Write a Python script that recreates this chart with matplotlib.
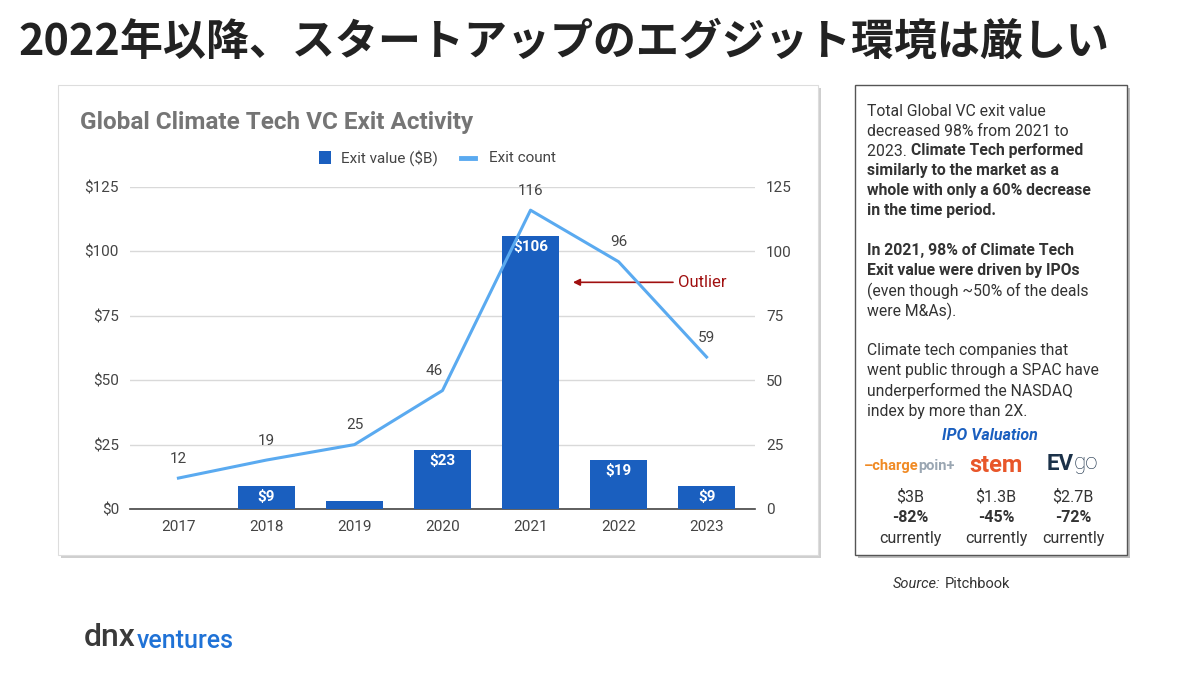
import matplotlib
matplotlib.use("Agg")
import matplotlib.pyplot as plt
from matplotlib.patches import Rectangle
from matplotlib.lines import Line2D

years = ["2017", "2018", "2019", "2020", "2021", "2022", "2023"]
exit_value = [0, 9, 3, 23, 106, 19, 9]
value_labels = ["", "$9", "", "$23", "$106", "$19", "$9"]
exit_count = [12, 19, 25, 46, 116, 96, 59]
left_ticks = [0, 25, 50, 75, 100, 125]

W, H = 1200, 673
fig = plt.figure(figsize=(12, 6.73), dpi=100)
fig.patch.set_facecolor("white")

def fx(x): return x / W
def fy(y): return 1 - y / H

# Title
fig.text(fx(18), fy(42), "2022年以降、スタートアップのエグジット環境は厳しい",
         family=["Noto Sans CJK JP", "DejaVu Sans"], weight="bold", fontsize=31,
         color="#222222", va="center", ha="left")

# Chart panel with shadow
fig.patches.append(Rectangle((fx(61), fy(558)), fx(760), (470) / H, transform=fig.transFigure,
                             facecolor="#cfcfcf", edgecolor="none", zorder=0))
fig.patches.append(Rectangle((fx(58), fy(555)), fx(760), (470) / H, transform=fig.transFigure,
                             facecolor="white", edgecolor="#dddddd", lw=0.8, zorder=0.5))
# Right box with shadow
fig.patches.append(Rectangle((fx(858), fy(558)), fx(272), 470 / H, transform=fig.transFigure,
                             facecolor="#bdbdbd", edgecolor="none", zorder=0))
fig.patches.append(Rectangle((fx(855), fy(555)), fx(272), 470 / H, transform=fig.transFigure,
                             facecolor="white", edgecolor="#555555", lw=1.0, zorder=0.5))

ax = fig.add_axes([fx(130), fy(509), fx(625), (509 - 187) / H])
ax.set_zorder(2)
ax.patch.set_alpha(0)
x = list(range(len(years)))
ax.bar(x, exit_value, width=0.64, color="#1a5fbf", zorder=3)
for xi, v, lab in zip(x, exit_value, value_labels):
    if lab:
        ax.text(xi, v - 1.5, lab, ha="center", va="top", color="white",
                fontsize=11, weight="bold", family="Roboto", zorder=4)
ax.set_ylim(0, 125)
ax.set_xlim(-0.55, 6.55)
ax.set_yticks(left_ticks)
ax.set_yticklabels([f"${t}" for t in left_ticks])
ax.set_xticks(x)
ax.set_xticklabels(years)
ax.grid(axis="y", color="#d9d9d9", lw=1, zorder=0)
for s in ["top", "right", "left"]:
    ax.spines[s].set_visible(False)
ax.spines["bottom"].set_color("#444444")
ax.spines["bottom"].set_linewidth(1.2)
ax.tick_params(length=0, labelsize=11, colors="#444444", pad=8)
for lab in ax.get_xticklabels() + ax.get_yticklabels():
    lab.set_family("Roboto")

ax2 = ax.twinx()
ax2.set_zorder(3)
ax2.plot(x, exit_count, color="#5aaaf0", lw=2.2, zorder=5)
ax2.set_ylim(0, 125)
ax2.set_yticks(left_ticks)
for s in ax2.spines.values():
    s.set_visible(False)
ax2.tick_params(length=0, labelsize=11, colors="#444444", pad=8)
for lab in ax2.get_yticklabels():
    lab.set_family("Roboto")
shifts = [0, 0, 0, -0.1, 0, 0, 0]
for xi, c, sh in zip(x, exit_count, shifts):
    ax2.annotate(str(c), (xi + sh, c), xytext=(0, 9), textcoords="offset points",
                 ha="center", va="bottom", fontsize=11, color="#444444",
                 family="Roboto", zorder=6)
# Outlier annotation
ax2.annotate("", xy=(4.45, 88), xytext=(5.65, 88),
             arrowprops=dict(arrowstyle="-|>", color="#a01010", lw=1.2, mutation_scale=10))
ax2.text(5.68, 88, "Outlier", color="#a01010", fontsize=12, va="center", ha="left", family="Roboto")

# Chart title and legend
fig.text(fx(80), fy(122), "Global Climate Tech VC Exit Activity", fontsize=17.5, weight="bold",
         color="#757575", family="Roboto", va="center")
fig.patches.append(Rectangle((fx(319), fy(164)), fx(12), 13 / H, transform=fig.transFigure,
                             facecolor="#1a5fbf", edgecolor="none", zorder=3))
fig.text(fx(341), fy(158), "Exit value ($B)", fontsize=11, color="#444444", family="Roboto", va="center")
fig.lines.append(Line2D([fx(461), fx(475)], [fy(158), fy(158)], transform=fig.transFigure,
                        color="#5aaaf0", lw=3.5))
fig.text(fx(489), fy(158), "Exit count", fontsize=11, color="#444444", family="Roboto", va="center")

# Right box text
fs = 11.3
lines = [
    (111, [("Total Global VC exit value", "normal")]),
    (131, [("decreased 98% from 2021 to", "normal")]),
    (151, [("2023. ", "normal"), ("Climate Tech performed", "bold")]),
    (171, [("similarly to the market as a", "bold")]),
    (191, [("whole with only a 60% decrease", "bold")]),
    (211, [("in the time period.", "bold")]),
    (251, [("In 2021, 98% of Climate Tech", "bold")]),
    (271, [("Exit value were driven by IPOs", "bold")]),
    (291, [("(even though ~50% of the deals", "normal")]),
    (311, [("were M&As).", "normal")]),
    (351, [("Climate tech companies that", "normal")]),
    (371, [("went public through a SPAC have", "normal")]),
    (391, [("underperformed the NASDAQ", "normal")]),
    (411, [("index by more than 2X.", "normal")]),
]
r = fig.canvas.get_renderer()
for y, parts in lines:
    xp = 867
    for txt, wt in parts:
        t = fig.text(fx(xp), fy(y), txt, fontsize=fs, weight=wt, color="#333333",
                     family="Roboto", va="center", ha="left")
        bb = t.get_window_extent(renderer=r)
        xp += bb.width
fig.text(fx(990), fy(435), "IPO Valuation", fontsize=11.5, weight="bold", style="italic",
         color="#1a5fbf", family="Roboto", ha="center", va="center")

# logos
t1 = fig.text(fx(864), fy(466), "\u2013charge", fontsize=10.5, weight="bold", color="#f08a24",
              family="Roboto", ha="left", va="center")
bb = t1.get_window_extent(renderer=r)
fig.text(fx(864) + bb.width / W, fy(466), "poin+", fontsize=10.5, weight="bold", color="#9aa6b2",
         family="Roboto", ha="left", va="center")
fig.text(fx(996), fy(466), "stem", fontsize=17, weight="bold", color="#e8562a",
         family="Roboto", ha="center", va="center")
t2 = fig.text(fx(1047), fy(464), "EV", fontsize=16, weight="bold", color="#1b3149",
              family="Roboto", ha="left", va="center")
bb = t2.get_window_extent(renderer=r)
fig.text(fx(1047) + bb.width / W, fy(464), "go", fontsize=16, weight="light", color="#1b3149",
         family="Roboto", ha="left", va="center")

cols = [(910, "$3B", "-82%"), (996, "$1.3B", "-45%"), (1073, "$2.7B", "-72%")]
for cx, a, b in cols:
    fig.text(fx(cx), fy(497), a, fontsize=11.5, color="#333333", family="Roboto", ha="center", va="center")
    fig.text(fx(cx), fy(517), b, fontsize=11.5, weight="bold", color="#333333", family="Roboto", ha="center", va="center")
    fig.text(fx(cx), fy(538), "currently", fontsize=11.5, color="#333333", family="Roboto", ha="center", va="center")

ts = fig.text(fx(893), fy(584), "Source:", fontsize=10.5, style="italic", color="#333333",
              family="Roboto", va="center")
bb = ts.get_window_extent(renderer=r)
fig.text(fx(893) + (bb.width + 4) / W, fy(584), "Pitchbook", fontsize=10.5, color="#333333",
         family="Roboto", va="center")

# dnx ventures logo
td = fig.text(fx(84), fy(638), "dnx", fontsize=23, weight="medium", color="#3a3a3a",
              family="Roboto", va="center")
bb = td.get_window_extent(renderer=r)
fig.text(fx(84) + (bb.width + 1) / W, fy(641), "ventures", fontsize=18, weight="medium",
         color="#1f72d6", family="Roboto", va="center")

fig.savefig("out.png", dpi=100, facecolor="white")
